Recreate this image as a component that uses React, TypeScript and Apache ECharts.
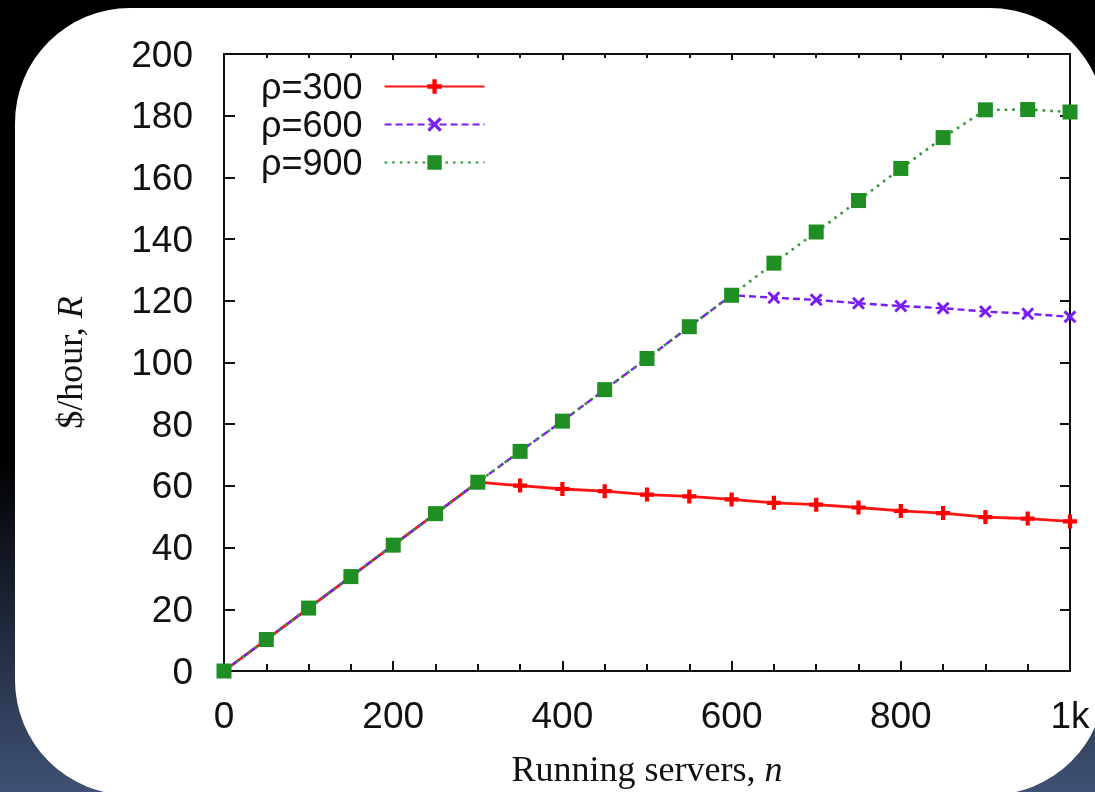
import React, { useEffect, useRef } from "react";
import * as echarts from "echarts";

const servers = [0, 50, 100, 150, 200, 250, 300, 350, 400, 450, 500, 550, 600, 650, 700, 750, 800, 850, 900, 950, 1000];
const rho300 = [0, 10.2, 20.4, 30.6, 40.8, 51.0, 61.2, 60.1, 59.0, 58.3, 57.2, 56.6, 55.6, 54.5, 53.9, 53.0, 51.9, 51.2, 49.9, 49.4, 48.5];
const rho600 = [0, 10.2, 20.4, 30.6, 40.8, 51.0, 61.2, 71.2, 81.0, 91.2, 101.3, 111.6, 121.8, 121.0, 120.3, 119.2, 118.3, 117.6, 116.5, 115.8, 114.8];
const rho900 = [0, 10.2, 20.4, 30.6, 40.8, 51.0, 61.2, 71.2, 81.0, 91.2, 101.3, 111.6, 121.8, 132.2, 142.3, 152.5, 162.9, 172.9, 181.9, 182.0, 181.2];
const seriesNames = ["ρ=300", "ρ=600", "ρ=900"];
const yTicks = [0, 20, 40, 60, 80, 100, 120, 140, 160, 180, 200];
const xLabels: Record<number, string> = { 0: "0", 200: "200", 400: "400", 600: "600", 800: "800", 1000: "1k" };

const W = 1095;
const H = 792;

const PLUS = "path://M3.5,0h3v3.5h3.5v3h-3.5v3.5h-3v-3.5h-3.5v-3h3.5z";
const CROSS = "path://M0,1.6L1.6,0L5,3.4L8.4,0L10,1.6L6.6,5L10,8.4L8.4,10L5,6.6L1.6,10L0,8.4L3.4,5z";

const SANS = "'Liberation Sans', Arial, sans-serif";
const SERIF = "'Liberation Serif', 'Times New Roman', serif";

export default function App() {
  const ref = useRef<HTMLDivElement>(null);
  useEffect(() => {
    if (!ref.current) return;
    const chart = echarts.init(ref.current, undefined, { renderer: "svg" });
    const pair = (arr: number[]) => servers.map((s, i) => [s, arr[i]]);
    const option: any = {
      animation: false,
      backgroundColor: "transparent",
      graphic: [
        {
          type: "rect",
          z: -20,
          silent: true,
          shape: { x: 0, y: 0, width: W, height: H },
          style: {
            fill: new echarts.graphic.LinearGradient(0, 0, 0, 1, [
              { offset: 0, color: "#000000" },
              { offset: 0.58, color: "#000000" },
              { offset: 1, color: "#3f5275" },
            ]),
          },
        },
        {
          type: "rect",
          z: -10,
          silent: true,
          shape: { x: 15, y: 8, width: 1090, height: 787, r: 115 },
          style: { fill: "#ffffff" },
        },
      ],
      grid: { left: 224, right: 25, top: 54, bottom: 117, containLabel: false },
      legend: {
        orient: "vertical",
        left: 256,
        top: 63,
        align: "right",
        itemWidth: 100,
        itemHeight: 18,
        itemGap: 1,
        textStyle: {
          fontFamily: SANS,
          fontSize: 36,
          color: "#111",
          lineHeight: 37,
          padding: [0, 17, 0, 0],
        },
        data: seriesNames,
      },
      xAxis: [
        {
          type: "value",
          min: 0,
          max: 1000,
          interval: 200,
          position: "bottom",
          splitLine: { show: false },
          axisLine: { show: true, onZero: false, lineStyle: { color: "#111", width: 2 } },
          axisTick: { show: true, inside: true, length: 10, lineStyle: { color: "#111", width: 2 } },
          minorTick: { show: true, splitNumber: 4, length: 7, lineStyle: { color: "#111", width: 2 } },
          axisLabel: {
            margin: 26,
            fontFamily: SANS,
            fontSize: 37,
            color: "#111",
            formatter: (v: number) => xLabels[v] ?? String(v),
          },
          name: "Running servers, {i|n}",
          nameLocation: "middle",
          nameGap: 80,
          nameTextStyle: {
            fontFamily: SERIF,
            fontSize: 36,
            color: "#111",
            rich: { i: { fontFamily: SERIF, fontSize: 36, fontStyle: "italic", color: "#111" } },
          },
        },
        {
          type: "value",
          min: 0,
          max: 1000,
          interval: 200,
          position: "top",
          splitLine: { show: false },
          axisLine: { show: true, onZero: false, lineStyle: { color: "#111", width: 2 } },
          axisTick: { show: true, inside: true, length: 6, lineStyle: { color: "#111", width: 2 } },
          minorTick: { show: true, splitNumber: 4, length: 4, lineStyle: { color: "#111", width: 2 } },
          axisLabel: { show: false },
        },
      ],
      yAxis: [
        {
          type: "value",
          min: 0,
          max: 200,
          interval: 20,
          position: "left",
          splitLine: { show: false },
          axisLine: { show: true, onZero: false, lineStyle: { color: "#111", width: 2 } },
          axisTick: { show: true, inside: true, length: 11, lineStyle: { color: "#111", width: 2 } },
          axisLabel: {
            margin: 31,
            fontFamily: SANS,
            fontSize: 37,
            color: "#111",
            formatter: (v: number) => (yTicks.includes(v) ? String(v) : ""),
          },
          name: "$/hour, {i|R}",
          nameLocation: "middle",
          nameRotate: 90,
          nameGap: 136,
          nameTextStyle: {
            fontFamily: SERIF,
            fontSize: 36,
            color: "#111",
            rich: { i: { fontFamily: SERIF, fontSize: 36, fontStyle: "italic", color: "#111" } },
          },
        },
        {
          type: "value",
          min: 0,
          max: 200,
          interval: 20,
          position: "right",
          splitLine: { show: false },
          axisLine: { show: true, onZero: false, lineStyle: { color: "#111", width: 2 } },
          axisTick: { show: true, inside: true, length: 10, lineStyle: { color: "#111", width: 2 } },
          axisLabel: { show: false },
        },
      ],
      series: [
        {
          name: seriesNames[0],
          type: "line",
          xAxisIndex: 0,
          yAxisIndex: 0,
          data: pair(rho300),
          symbol: PLUS,
          symbolSize: 14,
          showAllSymbol: true,
          itemStyle: { color: "#ff0000" },
          lineStyle: { color: "#ff1414", width: 2.8, type: "solid" },
          z: 3,
        },
        {
          name: seriesNames[1],
          type: "line",
          xAxisIndex: 0,
          yAxisIndex: 0,
          data: pair(rho600),
          symbol: CROSS,
          symbolSize: 13,
          showAllSymbol: true,
          itemStyle: { color: "#7a1cf5" },
          lineStyle: { color: "#7a1cf5", width: 2.4, type: [7, 4] },
          z: 4,
        },
        {
          name: seriesNames[2],
          type: "line",
          xAxisIndex: 0,
          yAxisIndex: 0,
          data: pair(rho900),
          symbol: "rect",
          symbolSize: 15,
          showAllSymbol: true,
          itemStyle: { color: "#1f8f24" },
          lineStyle: { color: "#2f9a34", width: 2.6, type: [2.6, 5] },
          z: 5,
        },
      ],
    };
    chart.setOption(option);
    return () => chart.dispose();
  }, []);
  return (
    <div
      ref={ref}
      style={{ position: "fixed", left: 0, top: 0, width: W, height: H }}
    />
  );
}
